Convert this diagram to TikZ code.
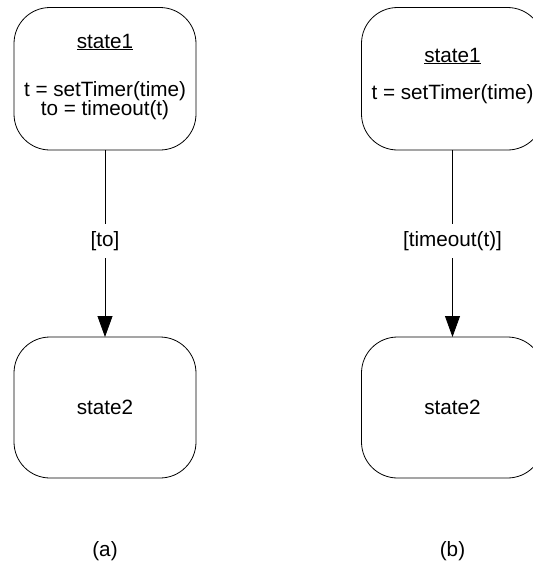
\documentclass[tikz,border=0pt]{standalone}
\usepackage{fontspec}
\setmainfont{Liberation Sans}
\usetikzlibrary{arrows.meta}

\tikzset{
    statebox/.style={draw, line width=0.8pt, rounded corners=36pt, inner sep=0pt, outer sep=0pt,
        minimum width=182pt},
    txt/.style={font=\fontsize{20.7pt}{19pt}\selectfont, inner sep=0pt},
    guard/.style={txt, fill=white, inner xsep=2pt, inner ysep=7pt, pos=0.487},
    trans/.style={line width=0.8pt, -{Triangle[length=21pt, width=15pt]}}
}

\begin{document}
\begin{tikzpicture}[x=1pt, y=-1pt]
    \clip (0, 0) rectangle (533, 563);

    % (a) with timeout stored in a variable
    \node [statebox, minimum height=142.5pt] (s1a) at (105, 78.75) {};
    \node [txt, anchor=base] (n1a) at (105, 48) {\underline{state1}};
    \node [txt, anchor=base] (t1a) at (105, 96) {t = setTimer(time)};
    \node [txt, anchor=base] (o1a) at (105, 115) {to = timeout(t)};
    \node [statebox, minimum height=141pt] (s2a) at (105, 407.5) {};
    \node [txt, anchor=base] (n2a) at (105, 414) {state2};
    \draw [trans] (s1a) -- node [guard] (ga) {[to]} (s2a);
    \node [txt] (capa) at (105, 551) {(a)};

    % (b) with timeout in the guard
    \node [statebox, minimum height=142.5pt] (s1b) at (452.5, 78.75) {};
    \node [txt, anchor=base] (n1b) at (452.5, 62) {\underline{state1}};
    \node [txt, anchor=base] (t1b) at (452.5, 99) {t = setTimer(time)};
    \node [statebox, minimum height=141pt] (s2b) at (452.5, 407.5) {};
    \node [txt, anchor=base] (n2b) at (452.5, 414) {state2};
    \draw [trans] (s1b) -- node [guard] (gb) {[timeout(t)]} (s2b);
    \node [txt] (capb) at (452.5, 551) {(b)};
\end{tikzpicture}
\end{document}
